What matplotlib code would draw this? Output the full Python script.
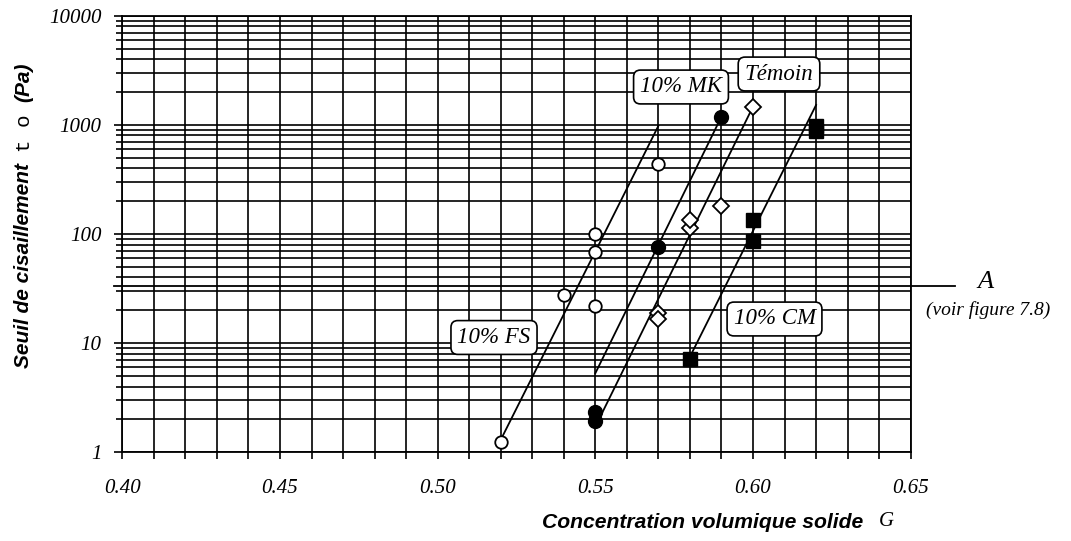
import matplotlib
matplotlib.use("Agg")
import matplotlib.pyplot as plt
import matplotlib.transforms as mtransforms
from matplotlib.ticker import FixedLocator, NullFormatter, FixedFormatter

# ---------------- data ----------------
fs_x = [0.52, 0.54, 0.55, 0.55, 0.55, 0.57]
fs_y = [1.24, 27.6, 22.0, 68.0, 100.0, 435.0]
mk_x = [0.55, 0.55, 0.57, 0.59]
mk_y = [2.35, 1.95, 76.0, 1190.0]
tem_x = [0.57, 0.57, 0.58, 0.58, 0.59, 0.60]
tem_y = [18.8, 16.5, 113.0, 134.0, 180.0, 1470.0]
cm_x = [0.58, 0.60, 0.60, 0.62, 0.62]
cm_y = [7.1, 86.0, 134.0, 880.0, 980.0]

# fitted trend lines (end points)
fs_fit_x = [0.52, 0.57]
fs_fit_y = [1.3, 980.0]
mk_fit_x = [0.55, 0.59]
mk_fit_y = [5.3, 1190.0]
tem_fit_x = [0.5515, 0.60]
tem_fit_y = [2.1, 1470.0]
cm_fit_x = [0.58, 0.62]
cm_fit_y = [7.5, 1520.0]

a_level = 33.4

x_ticks = [0.40, 0.45, 0.50, 0.55, 0.60, 0.65]
x_tick_labels = ["0.40", "0.45", "0.50", "0.55", "0.60", "0.65"]
x_minor = [0.40 + 0.01 * i for i in range(26)]
y_ticks = [1, 10, 100, 1000, 10000]
y_tick_labels = ["1", "10", "100", "1000", "10000"]
y_minor = [m * 10 ** d for d in range(4) for m in range(2, 10)]

labels = ["10% FS", "10% MK", "Témoin", "10% CM"]

# ---------------- figure ----------------
W, H = 1071, 541
fig = plt.figure(figsize=(W / 100, H / 100), dpi=100)
L, R, T, B = 122.3, 910.7, 15.7, 452.3
ax = fig.add_axes([L / W, 1 - B / H, (R - L) / W, (B - T) / H])
ax.set_yscale('log')
ax.set_xlim(0.40, 0.65)
ax.set_ylim(1, 10000)

ax.xaxis.set_major_locator(FixedLocator(x_ticks))
ax.xaxis.set_major_formatter(FixedFormatter(x_tick_labels))
ax.xaxis.set_minor_locator(FixedLocator(x_minor))
ax.xaxis.set_minor_formatter(NullFormatter())
ax.yaxis.set_major_locator(FixedLocator(y_ticks))
ax.yaxis.set_major_formatter(FixedFormatter(y_tick_labels))
ax.yaxis.set_minor_locator(FixedLocator(y_minor))
ax.yaxis.set_minor_formatter(NullFormatter())

ax.grid(which='both', color='black', lw=1.2)
ax.set_axisbelow(True)
for s in ax.spines.values():
    s.set_color('black')
    s.set_linewidth(1.3)

serif_it = dict(family='Liberation Serif', style='italic')
ax.tick_params(axis='x', which='both', direction='out', length=5, width=1.2, pad=14,
               labelsize=15, color='black')
ax.tick_params(axis='y', which='major', direction='out', length=6, width=1.2, pad=9,
               labelsize=15, color='black')
ax.tick_params(axis='y', which='minor', direction='out', length=4, width=1.2, color='black')
for lab in ax.get_xticklabels() + ax.get_yticklabels():
    lab.set_fontfamily('Liberation Serif')
    lab.set_fontstyle('italic')

# trend lines
for fx, fy in [(fs_fit_x, fs_fit_y), (mk_fit_x, mk_fit_y),
               (tem_fit_x, tem_fit_y), (cm_fit_x, cm_fit_y)]:
    ax.plot(fx, fy, color='black', lw=1.3, zorder=3)

# markers
ax.plot(fs_x, fs_y, 'o', ms=9, mfc='white', mec='black', mew=1.3, zorder=4)
ax.plot(mk_x, mk_y, 'o', ms=10, mfc='black', mec='black', zorder=4)
ax.plot(tem_x, tem_y, 'D', ms=8.5, mfc='white', mec='black', mew=1.3, zorder=4)
ax.plot(cm_x, cm_y, 's', ms=9.5, mfc='black', mec='black', zorder=4)

# series labels
box = dict(boxstyle='round,pad=0.28,rounding_size=0.3', fc='white', ec='black', lw=1.2)
label_pos = [(494, 337.5), (681, 87), (779, 74), (774.5, 319)]
for txt, (px, py) in zip(labels, label_pos):
    fig.text(px / W, 1 - py / H, txt, ha='center', va='center', fontsize=16.5,
             bbox=box, zorder=6, **serif_it)

# line A
trans = mtransforms.blended_transform_factory(ax.transAxes, ax.transData)
ax.plot([-0.011, 1.056], [a_level, a_level], color='black', lw=1.3,
        transform=trans, clip_on=False, zorder=3)
fig.text(985 / W, 1 - 281.7 / H, "A", ha='center', va='center', fontsize=19, **serif_it)
fig.text(988.5 / W, 1 - 310 / H, "(voir figure 7.8)", ha='center', va='center',
         fontsize=14, **serif_it)

# axis labels
sans_bi = dict(family='Liberation Sans', weight='bold', style='italic')
fig.text(703 / W, 1 - 523 / H, "Concentration volumique solide", ha='center', va='center',
         fontsize=15.2, **sans_bi)
fig.text(886 / W, 1 - 521 / H, "G", ha='center', va='center', fontsize=15, **serif_it)

fig.text(23.5 / W, 1 - 265 / H, "Seuil de cisaillement", rotation=90, ha='center',
         va='center', fontsize=15, **sans_bi)
fig.text(24 / W, 1 - 133 / H, "t o", rotation=90, ha='center', va='center',
         fontsize=15, family='Liberation Mono')
fig.text(23.5 / W, 1 - 82 / H, "(Pa)", rotation=90, ha='center', va='center',
         fontsize=15, **sans_bi)

fig.savefig("out.png", dpi=100)
